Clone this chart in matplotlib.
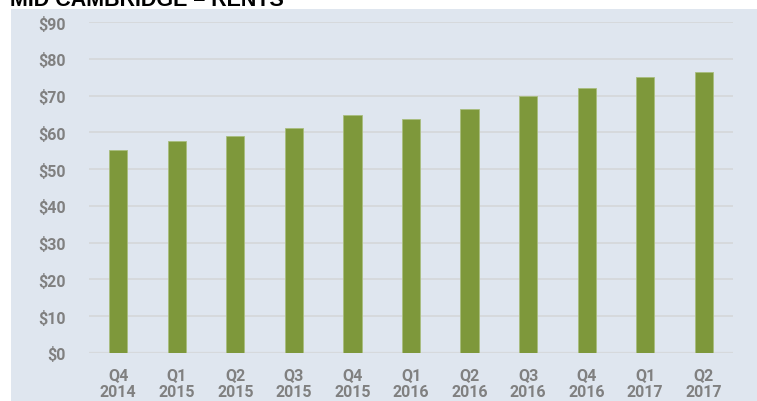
import matplotlib
matplotlib.use("Agg")
import matplotlib.pyplot as plt
from matplotlib.patches import Rectangle

# data
quarters = ["Q4\n2014", "Q1\n2015", "Q2\n2015", "Q3\n2015", "Q4\n2015", "Q1\n2016",
            "Q2\n2016", "Q3\n2016", "Q4\n2016", "Q1\n2017", "Q2\n2017"]
rents = [55.2, 57.6, 58.9, 61.3, 64.6, 63.5, 66.4, 70.0, 72.0, 75.0, 76.4]
yticks = [0, 10, 20, 30, 40, 50, 60, 70, 80, 90]
ytick_labels = ["$" + str(v) for v in yticks]

bg = "#dfe6ef"
bar_color = "#7e983b"
grid_color = "#d6d9dc"
text_gray = "#808080"

plt.rcParams["font.family"] = ["Roboto", "DejaVu Sans"]

fig = plt.figure(figsize=(7.57, 4.02), dpi=100)
fig.patch.set_facecolor("white")

# light blue panel behind the chart
panel = Rectangle((11 / 757, 0), 1 - 11 / 757, 1 - 10 / 402,
                  transform=fig.transFigure, facecolor=bg,
                  edgecolor="none", zorder=-10)
fig.add_artist(panel)

fig.text(10 / 757, 1 - 6 / 402, "MID CAMBRIDGE – RENTS", fontsize=15.5,
         fontweight="bold", color="black", ha="left", va="baseline",
         family=["Liberation Sans", "DejaVu Sans"])

ax = fig.add_axes([89 / 757, 1 - 354 / 402, 644 / 757, 331 / 402])
ax.set_facecolor("none")

x = list(range(len(quarters)))
ax.bar(x, rents, width=0.31, color=bar_color, edgecolor="#a9bd7e",
       linewidth=0.6, zorder=3)

ax.set_xlim(-0.5, len(quarters) - 0.5)
ax.set_ylim(0, 90)
ax.set_yticks(yticks)
ax.set_yticklabels(ytick_labels)
ax.set_xticks(x)
ax.set_xticklabels(quarters, linespacing=1.15)

for v in yticks:
    ax.axhline(v, color=grid_color, linewidth=1.6 if v == 0 else 1.4, zorder=1)

for s in ax.spines.values():
    s.set_visible(False)

ax.tick_params(axis="y", length=0, pad=17, labelsize=11.5, labelcolor=text_gray)
ax.tick_params(axis="x", length=0, pad=10, labelsize=11.5, labelcolor=text_gray)
for lab in ax.get_xticklabels() + ax.get_yticklabels():
    lab.set_fontweight("bold")

fig.savefig("out.png", dpi=100, facecolor=fig.get_facecolor())
